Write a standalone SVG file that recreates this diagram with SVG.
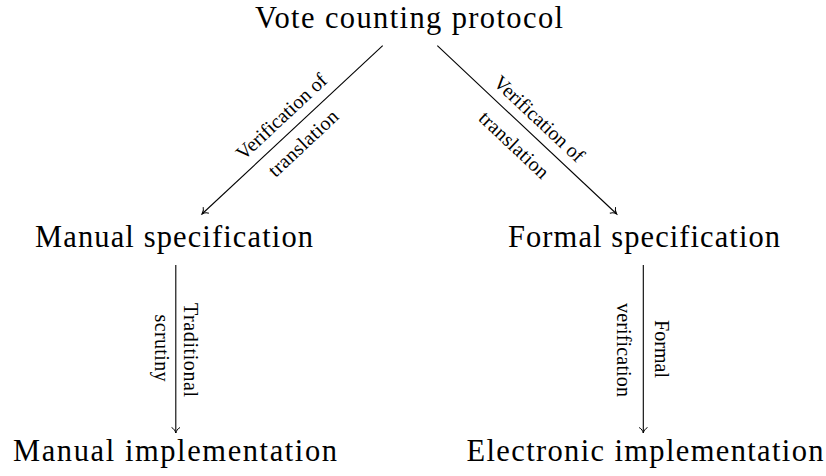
<svg xmlns="http://www.w3.org/2000/svg" width="826" height="476" viewBox="0 0 826 476">
<style>
.node{font-family:"Liberation Serif","Times New Roman",serif;font-size:30.5px;fill:#000;text-anchor:middle}
.lbl{font-family:"Liberation Serif","Times New Roman",serif;font-size:20px;fill:#000;text-anchor:middle}
.edge{stroke:#000;stroke-width:1.1;fill:none;marker-end:url(#arr)}
</style>
<defs>
<marker id="arr" markerUnits="userSpaceOnUse" viewBox="-7 -6 9 12" refX="0" refY="0" markerWidth="9" markerHeight="12" orient="auto">
<path d="M-5.5,-4.2 C-4.2,-1.6 -1.8,-0.5 0,0 C-1.8,0.5 -4.2,1.6 -5.5,4.2" fill="none" stroke="#000" stroke-width="1"/>
</marker>
</defs>
<g id="n-protocol"><text class="node" x="409" y="28" textLength="308">Vote counting protocol</text></g>
<g id="n-manual-spec"><text class="node" x="174" y="247" textLength="278">Manual specification</text></g>
<g id="n-formal-spec"><text class="node" x="644" y="247" textLength="272">Formal specification</text></g>
<g id="n-manual-impl"><text class="node" x="175" y="461" textLength="324">Manual implementation</text></g>
<g id="n-electronic-impl"><text class="node" x="645" y="461" textLength="357">Electronic implementation</text></g>
<g id="connectors">
<line class="edge" x1="382.7" y1="45.7" x2="202" y2="214"/>
<line class="edge" x1="437.3" y1="45.7" x2="616.7" y2="214"/>
<line class="edge" x1="175.8" y1="265" x2="175.8" y2="433"/>
<line class="edge" x1="643.3" y1="265" x2="643.3" y2="433"/>
<text class="lbl" transform="translate(281.5,116.8) rotate(-43)" x="0" y="6.5" textLength="116">Verification of</text>
<text class="lbl" transform="translate(303.3,143.3) rotate(-43)" x="0" y="6.5" textLength="88">translation</text>
<text class="lbl" transform="translate(539,119) rotate(43.2)" x="0" y="6.5" textLength="116">Verification of</text>
<text class="lbl" transform="translate(514,145) rotate(43.2)" x="0" y="6.5" textLength="88">translation</text>
<text class="lbl" transform="translate(183.5,350) rotate(90)" x="0" y="0" textLength="94">Traditional</text>
<text class="lbl" transform="translate(155,348) rotate(90)" x="0" y="0" textLength="67">scrutiny</text>
<text class="lbl" transform="translate(655,349) rotate(90)" x="0" y="0" textLength="58">Formal</text>
<text class="lbl" transform="translate(617,350) rotate(90)" x="0" y="0" textLength="94">verification</text>
</g>
</svg>
